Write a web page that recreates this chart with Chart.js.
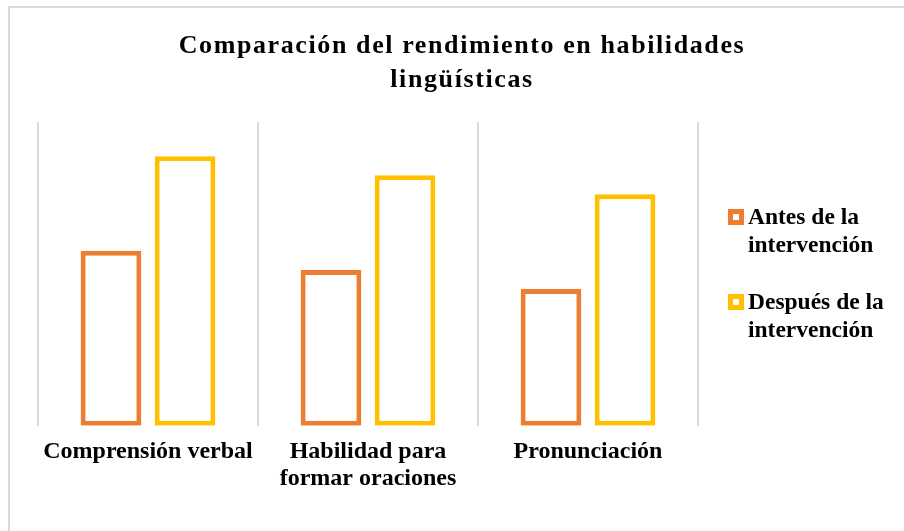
<!DOCTYPE html>
<html>
<head>
<meta charset="utf-8">
<script src="https://cdn.jsdelivr.net/npm/chart.js@4"></script>
<style>
  html, body { margin: 0; padding: 0; background: #fff; }
  body { width: 904px; height: 531px; position: relative; overflow: hidden; font-family: "Liberation Serif", serif; }
  #frame { position: absolute; left: 8px; top: 6px; width: 1000px; height: 1000px; border-left: 2px solid #d9d9d9; border-top: 2px solid #d9d9d9; }
  #wrap { position: absolute; left: 0; top: 0; width: 904px; height: 531px; }
  #title { position: absolute; left: 62px; width: 800px; top: 28px; text-align: center; font-weight: bold; font-size: 26px; line-height: 34px; letter-spacing: 1.6px; color: #000; }
  #legend { position: absolute; left: 728px; top: 202px; }
  .item { position: relative; padding-left: 20px; font-weight: bold; font-size: 23.5px; line-height: 28px; color: #000; height: 85px; }
  .box { position: absolute; left: 0; top: 7px; width: 6px; height: 6px; border: 5px solid; background: #fff; }
</style>
</head>
<body>
<div id="frame"></div>
<div id="wrap"><canvas id="chart" width="904" height="531"></canvas></div>
<div id="title">Comparación del rendimiento en habilidades<br>lingüísticas</div>
<div id="legend"></div>
<script>
// Datos
const categories = [
  "Comprensión verbal",
  ["Habilidad para", "formar oraciones"],
  "Pronunciación",
];
const antes = [57.6, 51.3, 45.0];
const despues = [88.7, 82.5, 76.2];
const seriesNames = ["Antes de la intervención", "Después de la intervención"];
const seriesLegend = [["Antes de la", "intervención"], ["Después de la", "intervención"]];
const colors = ["#ED7D31", "#FFC000"];

const data = {
  labels: categories,
  datasets: [
    {
      label: seriesNames[0],
      data: antes,
      backgroundColor: "#ffffff",
      borderColor: colors[0],
      borderWidth: 5,
      borderSkipped: false,
      categoryPercentage: 0.673,
      barPercentage: 0.82,
    },
    {
      label: seriesNames[1],
      data: despues,
      backgroundColor: "#ffffff",
      borderColor: colors[1],
      borderWidth: 5,
      borderSkipped: false,
      categoryPercentage: 0.673,
      barPercentage: 0.82,
    },
  ],
};

const config = {
  type: "bar",
  data,
  options: {
    responsive: false,
    animation: false,
    layout: { padding: { left: 38, right: 206, top: 122, bottom: 27 } },
    plugins: {
      legend: { display: false },
      title: { display: false },
      tooltip: { enabled: false },
    },
    scales: {
      x: {
        grid: { color: "#d9d9d9", lineWidth: 2, drawTicks: false, offset: true },
        border: { display: false },
        ticks: {
          color: "#000",
          padding: 12,
          maxRotation: 0,
          autoSkip: false,
          font: { family: "Liberation Serif", weight: "bold", size: 24, lineHeight: 1.13 },
        },
      },
      y: {
        display: false,
        min: 0,
        max: 100,
      },
    },
  },
};

var chartBar = new Chart(document.getElementById("chart"), config);

// leyenda
const legendEl = document.getElementById("legend");
seriesLegend.forEach(function (lines, i) {
  const item = document.createElement("div");
  item.className = "item";
  const box = document.createElement("span");
  box.className = "box";
  box.style.borderColor = colors[i];
  item.appendChild(box);
  item.appendChild(document.createTextNode(lines[0]));
  item.appendChild(document.createElement("br"));
  item.appendChild(document.createTextNode(lines[1]));
  legendEl.appendChild(item);
});
</script>
</body>
</html>
